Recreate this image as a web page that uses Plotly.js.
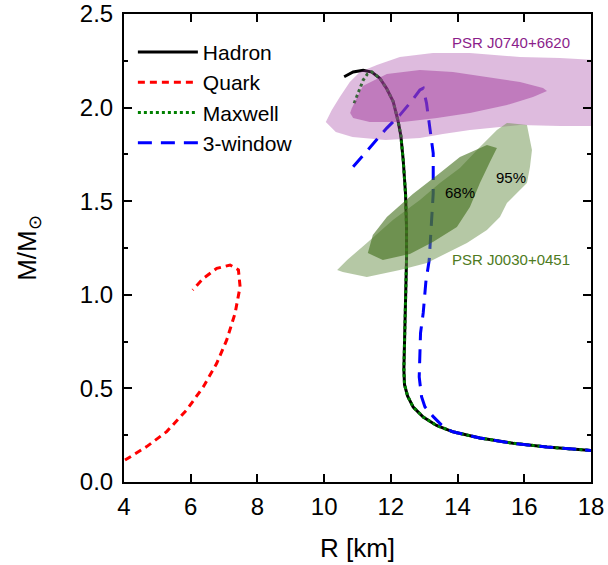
<!DOCTYPE html>
<html>
<head>
<meta charset="utf-8">
<script src="https://cdn.plot.ly/plotly-3.0.1.min.js"></script>
<style>html,body{margin:0;padding:0;background:#fff;}</style>
</head>
<body>
<div id="chart" style="width:608px;height:565px;"></div>
<script>
// ---- Mass-radius curves ----
const hadronR = [10.6, 10.87, 11.17, 11.43, 11.67, 11.87, 12.07, 12.22, 12.3, 12.37, 12.44, 12.47, 12.47, 12.45, 12.42, 12.40, 12.39, 12.41, 12.5, 12.67, 12.97, 13.37, 13.86, 14.67, 15.66, 16.68, 18.0];
const hadronM = [2.165, 2.19, 2.20, 2.19, 2.157, 2.103, 2.032, 1.925, 1.85, 1.72, 1.54, 1.36, 1.19, 1.03, 0.90, 0.75, 0.60, 0.52, 0.46, 0.40, 0.347, 0.302, 0.268, 0.235, 0.207, 0.187, 0.168];

const quarkR = [4.03, 4.68, 5.28, 5.88, 6.38, 6.78, 7.08, 7.33, 7.48, 7.43, 7.18, 6.78, 6.38, 6.06];
const quarkM = [0.117, 0.189, 0.269, 0.385, 0.509, 0.634, 0.759, 0.901, 1.043, 1.133, 1.159, 1.141, 1.088, 1.026];

const maxwellR = [10.9, 10.98, 11.07, 11.17, 11.3, 11.43, 11.67, 11.87, 12.07, 12.22, 12.3, 12.37, 12.44, 12.47, 12.47, 12.45, 12.42, 12.40, 12.39, 12.41, 12.5, 12.67, 12.97, 13.37, 13.86, 14.67, 15.66, 16.68, 18.0];
const maxwellM = [2.023, 2.058, 2.103, 2.147, 2.18, 2.19, 2.157, 2.103, 2.032, 1.925, 1.85, 1.72, 1.54, 1.36, 1.19, 1.03, 0.90, 0.75, 0.60, 0.52, 0.46, 0.40, 0.347, 0.302, 0.268, 0.235, 0.207, 0.187, 0.168];

const windowR = [10.87, 11.37, 11.87, 12.27, 12.6, 12.87, 12.97, 13.07, 13.17, 13.27, 13.27, 13.22, 13.15, 13.05, 12.97, 12.89, 12.85, 12.85, 12.92, 13.02, 13.27, 13.6, 13.86, 14.67, 15.66, 16.68, 18.0];
const windowM = [1.684, 1.784, 1.889, 1.96, 2.03, 2.094, 2.103, 2.023, 1.898, 1.756, 1.542, 1.364, 1.186, 1.07, 0.903, 0.796, 0.636, 0.561, 0.456, 0.402, 0.349, 0.29, 0.268, 0.235, 0.207, 0.187, 0.168];

// ---- Observational contours ----
const j0740_95R = [10.05, 10.23, 10.47, 10.77, 11.07, 11.58, 12.27, 13.26, 14.37, 15.87, 17.07, 18.5, 18.5, 17.07, 15.87, 14.97, 14.37, 13.56, 12.87, 11.84, 10.85, 10.35];
const j0740_95M = [1.923, 1.987, 2.057, 2.137, 2.19, 2.228, 2.27, 2.292, 2.292, 2.27, 2.265, 2.25, 1.902, 1.902, 1.907, 1.891, 1.88, 1.859, 1.838, 1.827, 1.843, 1.87];

const j0740_68R = [10.83, 11.16, 11.88, 12.87, 13.86, 14.88, 15.87, 16.56, 16.68, 16.26, 15.48, 14.37, 13.38, 12.36, 11.37, 10.87, 10.78];
const j0740_68M = [1.996, 2.115, 2.179, 2.201, 2.19, 2.163, 2.137, 2.105, 2.089, 2.057, 2.014, 1.971, 1.944, 1.923, 1.923, 1.944, 1.971];

const j0030_95R = [10.39, 10.69, 11.28, 12.06, 12.87, 13.47, 14.07, 14.67, 15.18, 15.48, 16.08, 16.17, 16.23, 16.17, 16.08, 15.78, 15.48, 15.27, 14.88, 14.28, 13.68, 13.08, 12.27, 11.28, 10.56];
const j0030_95M = [1.132, 1.186, 1.277, 1.4, 1.506, 1.597, 1.677, 1.79, 1.88, 1.918, 1.907, 1.827, 1.774, 1.683, 1.597, 1.544, 1.49, 1.416, 1.346, 1.277, 1.223, 1.17, 1.132, 1.095, 1.122];

const j0030_68R = [11.31, 11.46, 11.88, 12.66, 13.47, 14.07, 14.88, 15.18, 14.97, 14.67, 14.37, 13.98, 13.26, 12.57, 11.76];
const j0030_68M = [1.223, 1.319, 1.416, 1.538, 1.651, 1.736, 1.8, 1.784, 1.709, 1.597, 1.469, 1.362, 1.282, 1.218, 1.186];

// ---- Labels ----
const xTicks = [4, 6, 8, 10, 12, 14, 16, 18];
const yTicks = [0.0, 0.5, 1.0, 1.5, 2.0, 2.5];

const FONT = 'Liberation Sans, Arial, Helvetica, sans-serif';

const traces = [
  {x: hadronR, y: hadronM, name: 'Hadron', mode: 'lines', line: {color: '#000000', width: 3}},
  {x: quarkR, y: quarkM, name: 'Quark', mode: 'lines', line: {color: '#ff0000', width: 3, dash: '7px,5px'}},
  {x: maxwellR, y: maxwellM, name: 'Maxwell', mode: 'lines', line: {color: '#008000', width: 3, dash: '3px,3px'}},
  {x: windowR, y: windowM, name: '3-window', mode: 'lines', line: {color: '#0000ff', width: 3, dash: '14px,9px'}},
  {x: j0740_95R, y: j0740_95M, mode: 'lines', fill: 'toself', fillcolor: 'rgba(160,60,160,0.35)', line: {width: 0}, showlegend: false, hoverinfo: 'skip'},
  {x: j0740_68R, y: j0740_68M, mode: 'lines', fill: 'toself', fillcolor: 'rgba(161,59,156,0.5)', line: {width: 0}, showlegend: false, hoverinfo: 'skip'},
  {x: j0030_95R, y: j0030_95M, mode: 'lines', fill: 'toself', fillcolor: 'rgba(107,145,75,0.5)', line: {width: 0}, showlegend: false, hoverinfo: 'skip'},
  {x: j0030_68R, y: j0030_68M, mode: 'lines', fill: 'toself', fillcolor: 'rgba(64,108,23,0.6)', line: {width: 0}, showlegend: false, hoverinfo: 'skip'}
];

const layout = {
  width: 608, height: 565,
  margin: {l: 124, r: 17, t: 14, b: 83},
  paper_bgcolor: '#ffffff', plot_bgcolor: '#ffffff',
  font: {family: FONT, color: '#000000'},
  showlegend: true,
  legend: {x: 0.019, y: 0.962, xanchor: 'left', yanchor: 'top', bgcolor: 'rgba(0,0,0,0)', borderwidth: 0,
           font: {family: FONT, size: 21, color: '#000'}, itemwidth: 60, tracegroupgap: 0},
  xaxis: {
    range: [4, 18], tickvals: xTicks, ticktext: xTicks.map(String),
    ticks: 'inside', ticklen: 8, tickwidth: 2, tickcolor: '#000',
    showline: true, linewidth: 2, linecolor: '#000', mirror: 'allticks',
    showgrid: false, zeroline: false,
    tickfont: {family: FONT, size: 24}, ticklabelstandoff: 2,
    title: {text: 'R [km]', font: {family: FONT, size: 26}, standoff: 20}
  },
  yaxis: {
    range: [0, 2.5], tickvals: yTicks, ticktext: yTicks.map(v => v.toFixed(1)),
    ticks: 'inside', ticklen: 8, tickwidth: 2, tickcolor: '#000',
    minor: {dtick: 0.25, ticks: 'inside', ticklen: 4, tickwidth: 2, tickcolor: '#000', showgrid: false},
    showline: true, linewidth: 2, linecolor: '#000', mirror: 'allticks',
    showgrid: false, zeroline: false,
    tickfont: {family: FONT, size: 24}, ticklabelstandoff: 4,
    title: {text: 'M/M<sub>⊙</sub>', font: {family: FONT, size: 26}, standoff: 36}
  },
  annotations: [
    {x: 15.59, y: 2.348, text: 'PSR J0740+6620', showarrow: false, font: {family: FONT, size: 15, color: '#8b1e8b'}},
    {x: 15.59, y: 1.191, text: 'PSR J0030+0451', showarrow: false, font: {family: FONT, size: 15, color: '#4e7b22'}},
    {x: 14.06, y: 1.549, text: '68%', showarrow: false, font: {family: FONT, size: 15, color: '#000'}},
    {x: 15.6, y: 1.629, text: '95%', showarrow: false, font: {family: FONT, size: 15, color: '#000'}}
  ]
};

Plotly.newPlot('chart', traces, layout, {displayModeBar: false, staticPlot: true});
</script>
</body>
</html>
